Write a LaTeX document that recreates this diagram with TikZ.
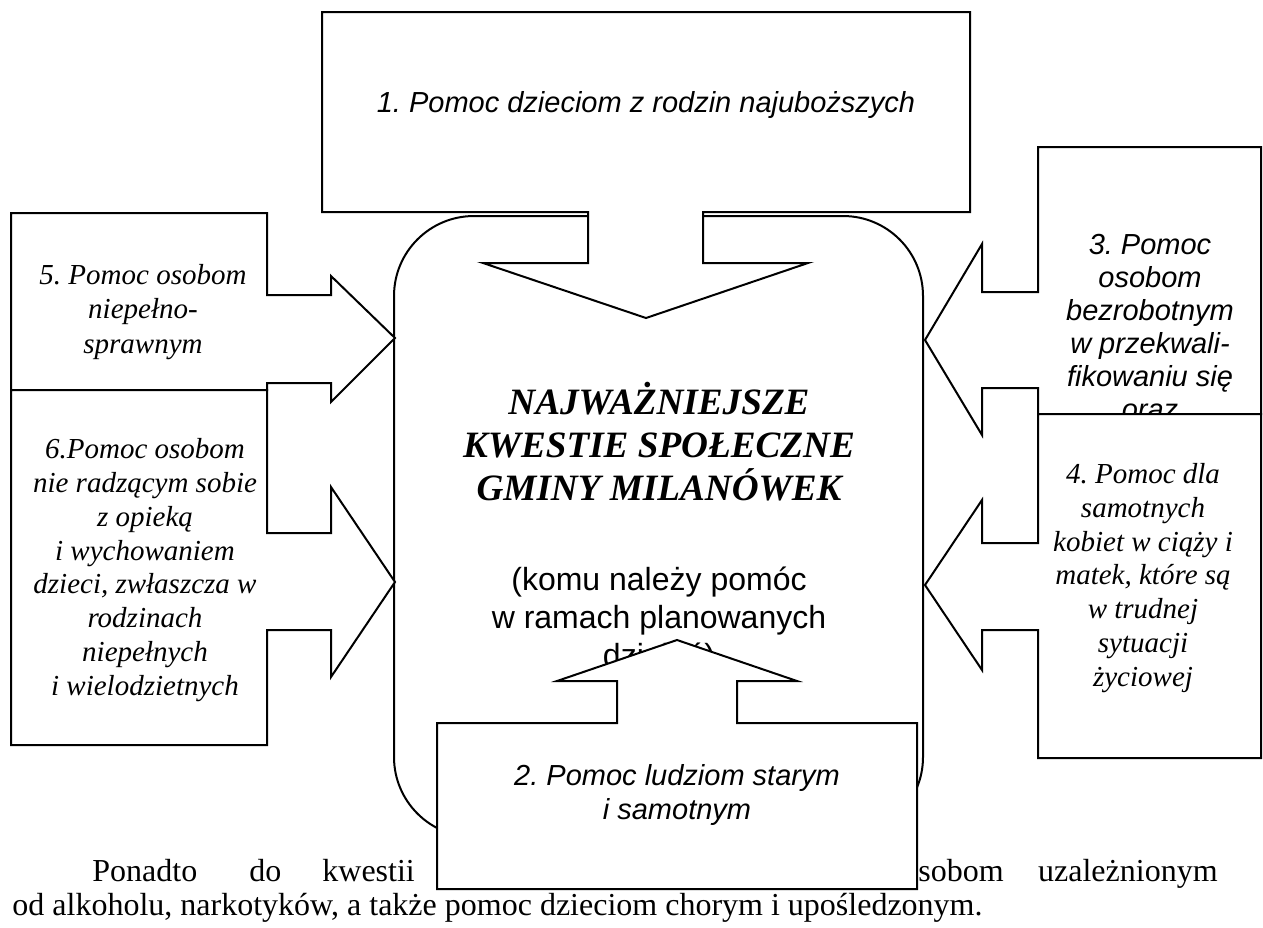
\documentclass[tikz,border=0pt]{standalone}
\usepackage{fontspec}
\setmainfont{Liberation Serif}[ItalicFont={Liberation Serif Italic},BoldFont={Liberation Serif Bold},BoldItalicFont={Liberation Serif Bold Italic}]
\setsansfont{Liberation Sans}[ItalicFont={Liberation Sans Italic},BoldFont={Liberation Sans Bold},BoldItalicFont={Liberation Sans Bold Italic}]
\usepackage{tikz}
\frenchspacing

\begin{document}
\begin{tikzpicture}[x=0.5pt,y=-0.5pt]
  \tikzstyle{cbox} = [draw,fill=white,line width=1pt,line join=miter]
  \tikzstyle{ser} = [align=center,inner sep=0pt,font=\fontsize{14.5}{16.9}\selectfont\itshape]
  \tikzstyle{san} = [align=center,inner sep=0pt,font=\fontsize{14.5}{16.5}\selectfont\sffamily\itshape]
  \tikzstyle{body} = [inner sep=0pt,font=\fontsize{16}{16.5}\selectfont]
  \useasboundingbox (0,0) rectangle (1263,927);
  %%
  %% central field
  \draw[cbox,rounded corners=40pt] (394,216) rectangle (923,837);
  \node[align=center,inner sep=0pt,font=\fontsize{18.6}{21.5}\selectfont\bfseries\itshape]
    (kwestie) at (659,442) {NAJWAŻNIEJSZE\\KWESTIE SPOŁECZNE\\GMINY MILANÓWEK};
  \node[align=center,inner sep=0pt,font=\fontsize{16}{19}\selectfont\sffamily]
    (komu) at (659,620) {(komu należy pomóc\\w ramach planowanych\\działań)};
  %%
  %% 1: top, arrow down
  \draw[cbox] (322,12) -- (970,12) -- (970,212) -- (703,212) -- (703,263) -- (808,263)
    -- (646,318) -- (483,263) -- (588,263) -- (588,212) -- (322,212) -- cycle;
  \node[san] (p1) at (646,105) {1. Pomoc dzieciom z rodzin najuboższych};
  %%
  %% 5 and 6: left, arrows right
  \draw[cbox] (11,213) -- (267,213) -- (267,295) -- (331,295) -- (331,276) -- (395,338)
    -- (331,402) -- (331,383) -- (267,383) -- (267,390) -- (11,390) -- cycle;
  \node[ser,font=\fontsize{14.5}{17.4}\selectfont\itshape] (p5) at (143,312) {5. Pomoc osobom\\niepełno-\\sprawnym};
  \draw[cbox] (11,390) -- (267,390) -- (267,533) -- (331,533) -- (331,487) -- (395,582)
    -- (331,677) -- (331,630) -- (267,630) -- (267,745) -- (11,745) -- cycle;
  \node[ser] (p6) at (145,570) {6.Pomoc osobom\\nie radzącym sobie\\z opieką\\i wychowaniem\\dzieci, zwłaszcza w\\rodzinach\\niepełnych\\i wielodzietnych};
  %%
  %% 3 and 4: right, arrows left
  \draw[cbox] (1038,147) -- (1261,147) -- (1261,414) -- (1038,414) -- (1038,388) -- (982,388)
    -- (982,435) -- (925,340) -- (982,244) -- (982,292) -- (1038,292) -- cycle;
  \node[san] (p3) at (1150,327) {3. Pomoc\\osobom\\bezrobotnym\\w przekwali-\\fikowaniu się\\oraz};
  \draw[cbox] (1038,414) -- (1261,414) -- (1261,758) -- (1038,758) -- (1038,630) -- (982,630)
    -- (982,670) -- (925,585) -- (982,500) -- (982,543) -- (1038,543) -- cycle;
  \node[ser] (p4) at (1143,578) {4. Pomoc dla\\samotnych\\kobiet w ciąży i\\matek, które są\\w trudnej\\sytuacji\\życiowej};
  %%
  %% text under the picture
  \node[body,anchor=base west] (w1) at (92,881) {Ponadto};
  \node[body,anchor=base west] (w2) at (249,881) {do};
  \node[body,anchor=base west] (w3) at (322,881) {kwestii};
  \node[body,anchor=base west] (w4) at (918,881) {sobom};
  \node[body,anchor=base east] (w5) at (1218,881) {uzależnionym};
  \node[body,anchor=base west] (w6) at (12,915) {od alkoholu, narkotyków, a także pomoc dzieciom chorym i upośledzonym.};
  %%
  %% 2: bottom, arrow up
  \draw[cbox] (437,723) -- (617,723) -- (617,681) -- (557,681) -- (677,640) -- (797,681)
    -- (737,681) -- (737,723) -- (917,723) -- (917,889) -- (437,889) -- cycle;
  \node[san,font=\fontsize{14.5}{17}\selectfont\sffamily\itshape] (p2) at (677,795) {2. Pomoc ludziom starym\\i samotnym};
\end{tikzpicture}
\end{document}
